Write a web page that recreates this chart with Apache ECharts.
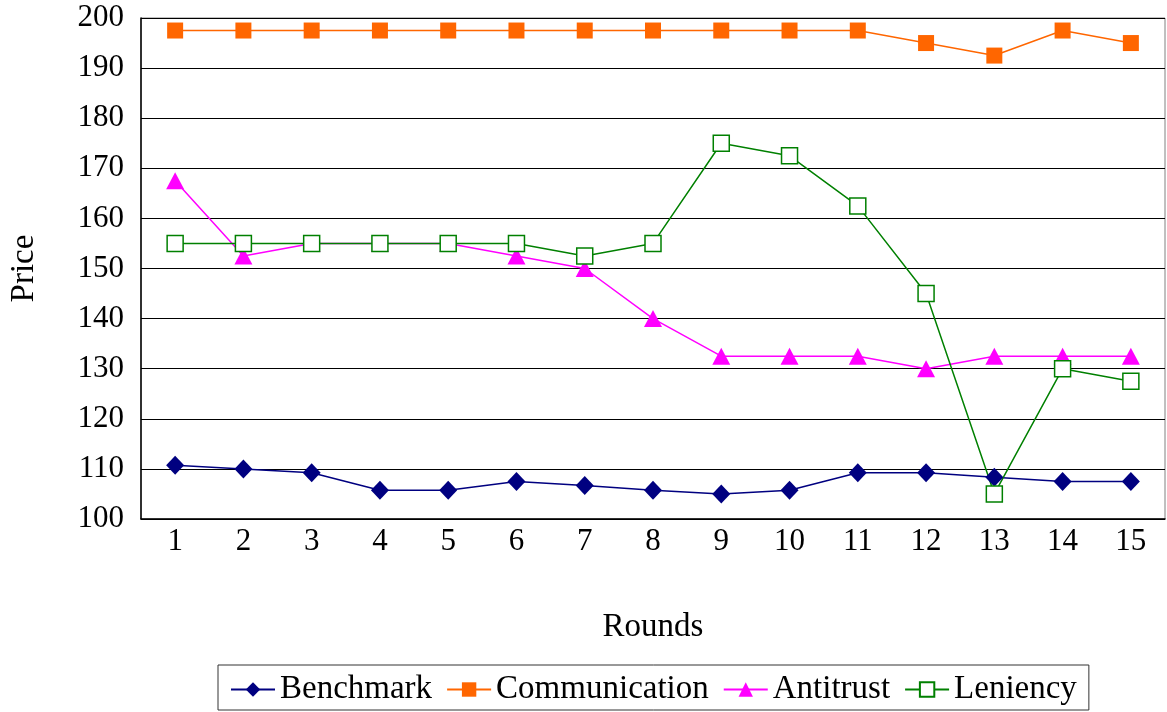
<!DOCTYPE html>
<html>
<head>
<meta charset="utf-8">
<script src="https://cdn.jsdelivr.net/npm/echarts@6/dist/echarts.min.js"></script>
<style>
html,body{margin:0;padding:0;background:#fff;}
#chart{width:1167px;height:712px;}
</style>
</head>
<body>
<div id="chart"></div>
<script>
const rounds = ['1','2','3','4','5','6','7','8','9','10','11','12','13','14','15'];
const benchmark = [110.75,110,109.25,105.75,105.75,107.5,106.67,105.75,105,105.75,109.25,109.25,108.33,107.5,107.5];
const communication = [197.5,197.5,197.5,197.5,197.5,197.5,197.5,197.5,197.5,197.5,197.5,195,192.5,197.5,195];
const antitrust = [167.5,152.5,155,155,155,152.5,150,140,132.5,132.5,132.5,130,132.5,132.5,132.5];
const leniency = [155,155,155,155,155,155,152.5,155,175,172.5,162.5,145,105,130,127.5];

const FONT = '"Liberation Serif", "Times New Roman", serif';
const chart = echarts.init(document.getElementById('chart'));
chart.setOption({
  animation: false,
  backgroundColor: '#ffffff',
  grid: {left: 139, right: 2, top: 18, bottom: 193, show: true, borderColor: '#808080', borderWidth: 1},
  legend: {
    left: 218, top: 665,
    padding: [8, 12, 4, 12],
    itemGap: 14,
    itemWidth: 44, itemHeight: 18,
    borderColor: '#333', borderWidth: 1,
    textStyle: {fontFamily: FONT, fontSize: 33, color: '#000'},
    data: ['Benchmark','Communication','Antitrust','Leniency']
  },
  xAxis: {
    type: 'category',
    data: rounds,
    boundaryGap: true,
    name: 'Rounds', nameLocation: 'middle', nameGap: 92,
    nameTextStyle: {fontFamily: FONT, fontSize: 33, color: '#000'},
    axisLine: {lineStyle: {color: '#000', width: 1.5}},
    axisTick: {inside: true, length: 11, lineStyle: {color: '#000'}},
    axisLabel: {fontFamily: FONT, fontSize: 31, color: '#000', margin: 7}
  },
  yAxis: {
    type: 'value', min: 100, max: 200, interval: 10,
    name: 'Price', nameLocation: 'middle', nameGap: 100,
    nameTextStyle: {fontFamily: FONT, fontSize: 33, color: '#000'},
    axisLine: {show: true, lineStyle: {color: '#000', width: 1.5}},
    axisTick: {show: true, inside: true, length: 10, lineStyle: {color: '#000'}},
    axisLabel: {fontFamily: FONT, fontSize: 31, color: '#000', margin: 17},
    splitLine: {show: true, lineStyle: {color: '#000', width: 1}}
  },
  series: [
    {name: 'Benchmark', type: 'line', data: benchmark, symbol: 'diamond', symbolSize: [18, 19],
     lineStyle: {color: '#000080', width: 1.5}, itemStyle: {color: '#000080'}},
    {name: 'Communication', type: 'line', data: communication, symbol: 'rect', symbolSize: 16,
     lineStyle: {color: '#FF6600', width: 1.5}, itemStyle: {color: '#FF6600'}},
    {name: 'Antitrust', type: 'line', data: antitrust, symbol: 'triangle', symbolSize: [18, 17],
     lineStyle: {color: '#FF00FF', width: 1.5}, itemStyle: {color: '#FF00FF'}},
    {name: 'Leniency', type: 'line', data: leniency, symbol: 'rect', symbolSize: 16,
     lineStyle: {color: '#008000', width: 1.5}, itemStyle: {color: '#ffffff', borderColor: '#008000', borderWidth: 1.5}}
  ]
});
</script>
</body>
</html>
